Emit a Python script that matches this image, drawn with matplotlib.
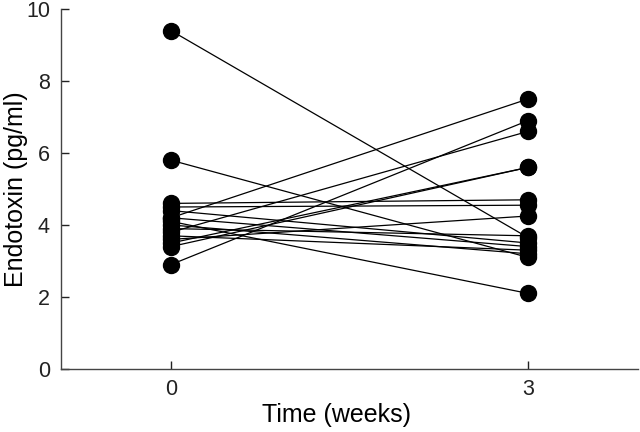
import matplotlib
matplotlib.use("Agg")
import matplotlib.pyplot as plt

plt.rcParams['font.family'] = ['Liberation Sans', 'DejaVu Sans']

# endotoxin (pg/ml) per subject at week 0 and week 3
week0 = [9.4, 5.8, 2.9, 4.2, 3.8, 3.4, 3.5, 4.6, 4.5, 3.6, 4.1, 4.4, 3.7, 4.0, 3.9, 4.2]
week3 = [3.65, 3.1, 6.9, 7.5, 6.6, 5.6, 5.6, 4.7, 4.55, 4.25, 2.1, 3.5, 3.3, 3.2, 3.7, 3.4]
times = [0, 3]

fig = plt.figure(figsize=(6.4, 4.32), dpi=100)
ax = fig.add_axes([61 / 640, 63 / 432, 577 / 640, 360 / 432])

for a, b in zip(week0, week3):
    ax.plot(times, [a, b], color='black', linewidth=0.9, marker='o',
            markersize=11.5, markerfacecolor='black', markeredgecolor='black', zorder=2)

ax.set_xlim(-0.924, 3.924)
ax.set_ylim(0, 10)
ax.set_xticks(times)
ax.set_yticks([0, 2, 4, 6, 8, 10])
ax.spines['top'].set_visible(False)
ax.spines['right'].set_visible(False)
for sp in ax.spines.values():
    sp.set_linewidth(1.0)
    sp.set_color('#444444')
ax.tick_params(direction='in', length=6, width=1.0, labelsize=15.5, colors='#222222', pad=7)
ax.tick_params(axis='y', pad=8)

ax.set_xlabel('Time (weeks)', fontsize=18)
ax.set_ylabel('Endotoxin (pg/ml)', fontsize=18)
ax.xaxis.set_label_coords(0.478, -0.095)
ax.yaxis.set_label_coords(-0.057, 0.5)

fig.savefig('out.png', dpi=100)
